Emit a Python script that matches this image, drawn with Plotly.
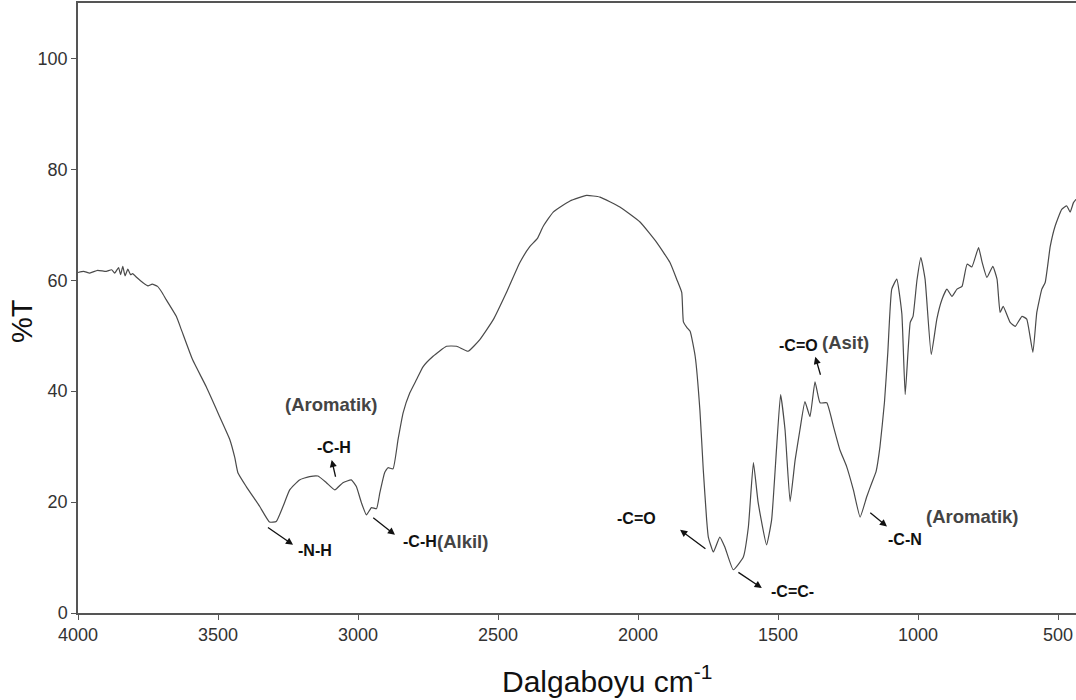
import plotly.graph_objects as go

# FTIR spectrum
wavenumber = [4000, 3980, 3958, 3930, 3899, 3880, 3869, 3855, 3848, 3840, 3832, 3822, 3812, 3805,
              3790, 3769, 3750, 3735, 3716, 3700, 3685, 3649, 3631, 3591, 3542, 3494, 3458, 3440,
              3429, 3399, 3351, 3316, 3292, 3268, 3244, 3209, 3173, 3143, 3113, 3083, 3054, 3024,
              3006, 2988, 2970, 2952, 2934, 2922, 2905, 2893, 2875, 2857, 2839, 2815, 2791, 2768,
              2732, 2684, 2648, 2607, 2565, 2517, 2470, 2422, 2386, 2360, 2339, 2303, 2243, 2184,
              2136, 2065, 1993, 1933, 1886, 1862, 1844, 1838, 1826, 1814, 1796, 1779, 1767, 1755,
              1749, 1731, 1708, 1690, 1660, 1624, 1606, 1588, 1571, 1541, 1523, 1505, 1491, 1475,
              1457, 1439, 1422, 1404, 1386, 1368, 1350, 1326, 1302, 1279, 1255, 1231, 1207, 1183,
              1165, 1150, 1136, 1120, 1108, 1094, 1076, 1058, 1046, 1028, 1018, 1004, 990, 975,
              953, 933, 915, 897, 879, 861, 843, 825, 808, 784, 772, 754, 733, 718, 707, 696,
              671, 653, 629, 612, 590, 576, 558, 546, 528, 511, 487, 469, 457, 445, 436]
transmittance = [61.4, 61.6, 61.3, 61.8, 61.6, 61.9, 61.3, 62.3, 61.0, 62.5, 60.8, 62.0, 61.0, 61.2,
                 60.5, 59.6, 59.0, 59.3, 58.9, 57.8, 56.5, 53.5, 51.1, 45.7, 40.8, 35.4, 31.3, 28.0,
                 25.3, 22.8, 19.2, 16.4, 16.5, 19.2, 22.2, 24.0, 24.6, 24.7, 23.5, 22.2, 23.5, 24.0,
                 22.8, 19.9, 17.7, 19.0, 18.8, 21.7, 25.3, 26.2, 26.0, 31.3, 36.1, 39.7, 42.1, 44.4,
                 46.3, 48.1, 48.1, 47.2, 49.3, 52.9, 57.8, 63.2, 66.1, 67.5, 69.7, 72.3, 74.3, 75.3,
                 75.0, 73.2, 70.5, 66.8, 63.2, 60.2, 57.8, 52.5, 51.5, 50.8, 46.3, 36.5, 25.8, 16.8,
                 13.7, 11.0, 13.7, 11.9, 7.8, 10.1, 15.5, 27.1, 19.9, 12.3, 16.8, 30.0, 39.4, 33.0,
                 20.1, 27.6, 33.0, 38.1, 35.4, 41.7, 37.9, 37.9, 33.6, 29.4, 26.4, 22.2, 17.3, 21.0,
                 23.5, 25.5, 30.0, 38.0, 47.0, 58.4, 60.2, 54.0, 39.4, 52.4, 53.5, 60.0, 64.1, 60.2,
                 46.6, 53.0, 56.5, 58.4, 57.1, 58.4, 58.9, 62.9, 62.4, 65.9, 63.4, 60.5, 62.5, 60.2,
                 54.2, 55.3, 52.4, 51.7, 53.5, 53.0, 47.0, 54.2, 58.4, 59.6, 66.1, 69.7, 72.8, 73.4,
                 72.3, 74.0, 74.6]

x_ticks = [4000, 3500, 3000, 2500, 2000, 1500, 1000, 500]
y_ticks = [0, 20, 40, 60, 80, 100]

# Band assignments: label, text position, arrow tail, arrow head
band_labels = ["-N-H", "-C-H", "-C-H", "-C=O", "-C=C-", "-C=O", "-C-N"]
label_pos = [(3155, 11.2), (3085, 29.8), (2780, 12.9), (2005, 17.0), (1450, 3.9), (1428, 48.3), (1045, 13.2)]
arrow_tail = [(3327, 15.6), (3079, 24.3), (2951, 17.4), (1754, 11.4), (1647, 7.5), (1347, 42.7), (1176, 18.3)]
arrow_head = [(3232, 12.3), (3094, 27.6), (2868, 14.1), (1850, 15.0), (1558, 4.5), (1367, 46.2), (1111, 15.6)]
group_labels = ["(Aromatik)", "(Alkil)", "(Asit)", "(Aromatik)"]
group_pos = [(3094, 37.6), (2628, 12.9), (1260, 48.7), (807, 17.4)]

fig = go.Figure()
fig.add_trace(go.Scatter(x=wavenumber, y=transmittance, mode="lines",
                         line=dict(color="#4a4a4a", width=1.2, shape="spline", smoothing=0.4),
                         showlegend=False, hoverinfo="skip"))

annotations = []
for lab, (tx, ty), (ax_, ay_), (hx, hy) in zip(band_labels, label_pos, arrow_tail, arrow_head):
    annotations.append(dict(x=hx, y=hy, ax=ax_, ay=ay_, xref="x", yref="y", axref="x", ayref="y",
                            text="", showarrow=True, arrowhead=2, arrowsize=1.1,
                            arrowwidth=1.3, arrowcolor="#111"))
    annotations.append(dict(x=tx, y=ty, xref="x", yref="y", text="<b>" + lab + "</b>",
                            showarrow=False, font=dict(family="Liberation Sans, Arial", size=16, color="#111")))
for lab, (tx, ty) in zip(group_labels, group_pos):
    annotations.append(dict(x=tx, y=ty, xref="x", yref="y", text="<b>" + lab + "</b>",
                            showarrow=False, font=dict(family="Liberation Sans, Arial", size=18.5, color="#444")))

annotations.append(dict(x=0.5296, y=-0.109, xref="paper", yref="paper", showarrow=False,
                        xanchor="center", yanchor="middle",
                        text="Dalgaboyu cm<sup>-1</sup>",
                        font=dict(family="Liberation Sans, Arial", size=30, color="#111")))
annotations.append(dict(x=-0.056, y=0.479, xref="paper", yref="paper", showarrow=False,
                        xanchor="center", yanchor="middle",
                        text="%T", textangle=-90,
                        font=dict(family="Liberation Sans, Arial", size=29, color="#111")))

fig.update_layout(
    width=1076, height=700,
    margin=dict(l=78, r=0, t=3, b=87),
    paper_bgcolor="white", plot_bgcolor="white",
    annotations=annotations,
    xaxis=dict(range=[4000, 436], tickvals=x_ticks, ticktext=[str(v) for v in x_ticks],
               ticks="outside", ticklen=5, tickcolor="#555", showline=True, linecolor="#555",
               linewidth=1.5, mirror=True, showgrid=False, zeroline=False,
               tickfont=dict(family="Liberation Sans, Arial", size=18, color="#333")),
    yaxis=dict(range=[0, 110], tickvals=y_ticks, ticks="outside", ticklen=5, tickcolor="#555",
               showline=True, linecolor="#555", linewidth=1.5, showgrid=False, zeroline=False,
               tickfont=dict(family="Liberation Sans, Arial", size=18, color="#333")),
)

fig.write_html("out.html", config={"displayModeBar": False},
               post_script="document.body.style.margin='0';")
